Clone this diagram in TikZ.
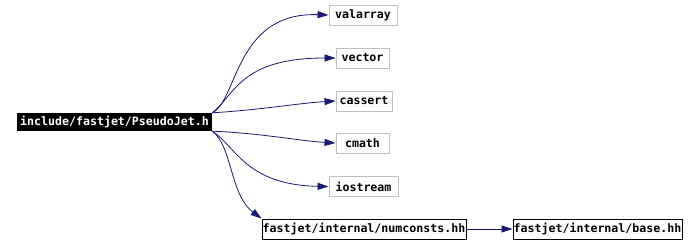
\documentclass[tikz,border=0pt]{standalone}
\usepackage{fontspec}
\setmonofont{DejaVu Sans Mono}
\usetikzlibrary{arrows.meta}
\definecolor{edgeblue}{HTML}{191970}
\definecolor{sysgray}{HTML}{BFBFBF}
\begin{document}
\begin{tikzpicture}[x=1pt,y=-1pt,
  every node/.style={font=\ttfamily\bfseries\fontsize{11.6}{13}\selectfont, inner sep=0pt, anchor=center},
  sysbox/.style={draw=sysgray, line width=0.9pt, fill=white},
  fjbox/.style={draw=black, line width=0.9pt, fill=white},
  rootbox/.style={fill=black, text=white},
  edge/.style={draw=edgeblue, line width=0.8pt, -{Triangle[length=11pt,width=7pt]}}]
\useasboundingbox (0,0) rectangle (692,244);
\fill[white] (0,0) rectangle (692,244);
\node[rootbox, minimum width=195pt, minimum height=18pt] (root) at (114.5,122) {include/fastjet/PseudoJet.h};
\node[sysbox, minimum width=68pt, minimum height=20pt] (valarray) at (363,15) {valarray};
\node[sysbox, minimum width=53pt, minimum height=20pt] (vector) at (362.5,58) {vector};
\node[sysbox, minimum width=56pt, minimum height=20pt] (cassert) at (364,101) {cassert};
\node[sysbox, minimum width=53pt, minimum height=20pt] (cmath) at (362.5,143) {cmath};
\node[sysbox, minimum width=69pt, minimum height=20pt] (iostream) at (363.5,186.5) {iostream};
\node[fjbox, minimum width=204pt, minimum height=20pt] (numconsts) at (364,229) {fastjet/internal/numconsts.hh};
\node[fjbox, minimum width=169pt, minimum height=20pt] (base) at (597.5,229) {fastjet/internal/base.hh};
\draw[edge] (root.north east) .. controls (238,100) and (235,12) .. (valarray.west);
\draw[edge] (root.north east) .. controls (235,95) and (240,58) .. (vector.west);
\draw[edge] (root.north east) .. controls (260,110) and (300,103) .. (cassert.west);
\draw[edge] (root.south east) .. controls (260,133) and (300,141) .. (cmath.west);
\draw[edge] (root.south east) .. controls (235,145) and (245,185) .. (iostream.west);
\draw[edge] (root.south east) .. controls (232,145) and (230,195) .. (numconsts.north west);
\draw[edge] (numconsts.east) -- (base.west);
\end{tikzpicture}
\end{document}
